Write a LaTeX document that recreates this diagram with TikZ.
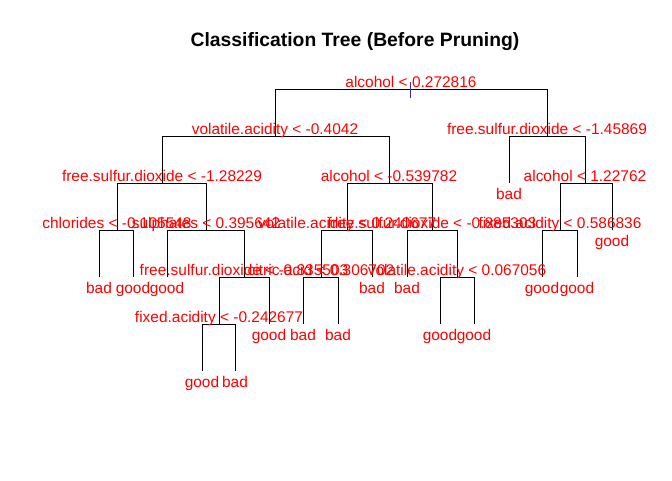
\documentclass[tikz,border=0pt]{standalone}
\usepackage{fontspec}
\setmainfont{Liberation Sans}
\usetikzlibrary{calc,positioning}
\definecolor{tickblue}{RGB}{70,40,170}

\tikzset{
  splitlab/.style={text=red, anchor=base, yshift=1.1pt, inner sep=0pt,
    font=\fontsize{11.6}{13}\selectfont},
  leaflab/.style={text=red, anchor=base, yshift=-12pt, inner sep=0pt,
    font=\fontsize{11.6}{13}\selectfont},
  branch/.style={line width=0.75pt, black}
}

\begin{document}
\begin{tikzpicture}[x=0.75pt, y=-0.75pt]
    \useasboundingbox (0,0) rectangle (672,480);

    % Title
    \node[font=\fontsize{14.5}{16}\bfseries] (title) at (355,42) {Classification Tree (Before Pruning)};

    % Split points
    \coordinate (root) at (411,89);
    \coordinate (va1) at (275,136);
    \coordinate (fsd1) at (547,136);
    \coordinate (fsd2) at (162,183);
    \coordinate (alc2) at (389,183);
    \coordinate (alc3) at (585,183);
    \coordinate (chl) at (117,230);
    \coordinate (sul) at (206,230);
    \coordinate (va2) at (347,230);
    \coordinate (fsd3) at (432,230);
    \coordinate (fa1) at (560,230);
    \coordinate (fsd4) at (244,277);
    \coordinate (cit) at (321,277);
    \coordinate (va3) at (457,277);
    \coordinate (fa2) at (219,324);

    % Leaves
    \coordinate (l1) at (509,183);
    \coordinate (l2) at (612,230);
    \coordinate (l3) at (99,277);
    \coordinate (l4) at (133,277);
    \coordinate (l5) at (167,277);
    \coordinate (l6) at (372,277);
    \coordinate (l7) at (407,277);
    \coordinate (l8) at (542,277);
    \coordinate (l9) at (577,277);
    \coordinate (l10) at (269,324);
    \coordinate (l11) at (303,324);
    \coordinate (l12) at (338,324);
    \coordinate (l13) at (440,324);
    \coordinate (l14) at (474,324);
    \coordinate (l15) at (202,371);
    \coordinate (l16) at (235,371);

    % Branches
    \foreach \p/\c in {root/va1, root/fsd1, va1/fsd2, va1/alc2, fsd1/l1, fsd1/alc3,
        fsd2/chl, fsd2/sul, alc2/va2, alc2/fsd3, alc3/fa1, alc3/l2,
        chl/l3, chl/l4, sul/l5, sul/fsd4, va2/cit, va2/l6, fsd3/l7, fsd3/va3,
        fa1/l8, fa1/l9, fsd4/fa2, fsd4/l10, cit/l11, cit/l12, va3/l13, va3/l14,
        fa2/l15, fa2/l16}
        \draw[branch] (\p) -| (\c);

    % Split labels
    \node[splitlab] (t-root) at (root) {alcohol < 0.272816};
    \node[splitlab] (t-va1) at (va1) {volatile.acidity < -0.4042};
    \node[splitlab] (t-fsd1) at (fsd1) {free.sulfur.dioxide < -1.45869};
    \node[splitlab] (t-fsd2) at (fsd2) {free.sulfur.dioxide < -1.28229};
    \node[splitlab] (t-alc2) at (alc2) {alcohol < -0.539782};
    \node[splitlab] (t-alc3) at (alc3) {alcohol < 1.22762};
    \node[splitlab] (t-chl) at (chl) {chlorides < -0.105548};
    \node[splitlab] (t-sul) at (sul) {sulphates < 0.395642};
    \node[splitlab] (t-va2) at (va2) {volatile.acidity < 0.240677};
    \node[splitlab] (t-fsd3) at (fsd3) {free.sulfur.dioxide < -0.885303};
    \node[splitlab] (t-fa1) at (fa1) {fixed.acidity < 0.586836};
    \node[splitlab] (t-fsd4) at (fsd4) {free.sulfur.dioxide < -0.835503};
    \node[splitlab] (t-cit) at (cit) {citric.acid < 0.306702};
    \node[splitlab] (t-va3) at (va3) {volatile.acidity < 0.067056};
    \node[splitlab] (t-fa2) at (fa2) {fixed.acidity < -0.242677};

    % Leaf labels
    \foreach \l/\t in {l1/bad, l2/good, l3/bad, l4/good, l5/good, l6/bad, l7/bad,
        l8/good, l9/good, l10/good, l11/bad, l12/bad, l13/good, l14/good,
        l15/good, l16/bad}
        \node[leaflab] (t-\l) at (\l) {\t};

    % Root tick
    \draw[tickblue, line width=0.75pt] ($(root)+(-1,-7)$) -- ($(root)+(-1,9)$);
\end{tikzpicture}
\end{document}
